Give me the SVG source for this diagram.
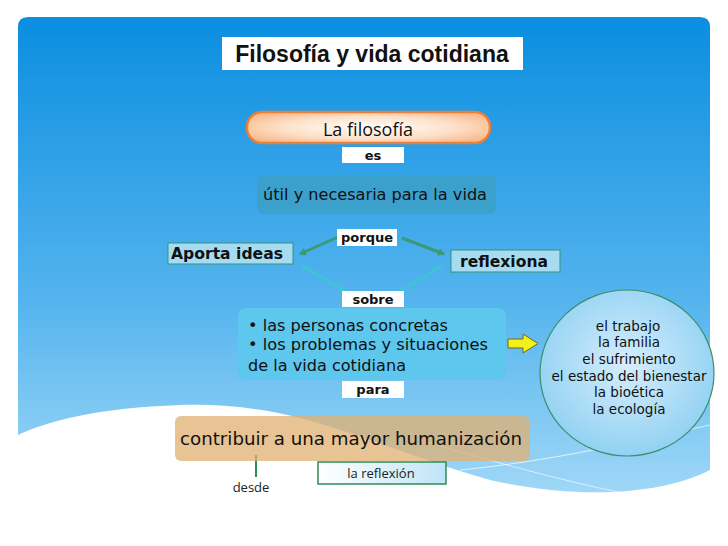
<svg xmlns="http://www.w3.org/2000/svg" width="728" height="546" viewBox="0 0 728 546">
<defs>
<linearGradient id="bg" x1="0" y1="0" x2="0" y2="1"><stop offset="0" stop-color="#0a8ee0"/><stop offset="0.6" stop-color="#55b4ee"/><stop offset="1" stop-color="#9fd7f7"/></linearGradient>
<radialGradient id="pill" cx="0.5" cy="0.5" r="0.6"><stop offset="0" stop-color="#ffffff"/><stop offset="0.6" stop-color="#fde0c8"/><stop offset="1" stop-color="#f8b98a"/></radialGradient>
<radialGradient id="circ" cx="0.5" cy="0.45" r="0.6"><stop offset="0" stop-color="#d6eefc"/><stop offset="1" stop-color="#8ccff2"/></radialGradient>
<linearGradient id="refl" x1="0" y1="0" x2="1" y2="0"><stop offset="0" stop-color="#ffffff"/><stop offset="1" stop-color="#bfe4f7"/></linearGradient>
<marker id="ah" markerWidth="8" markerHeight="8" refX="6" refY="4" orient="auto" markerUnits="userSpaceOnUse"><path d="M0,0 L7,4 L0,8 z" fill="#3a9a78"/></marker>
</defs>
<style>
.lab{fill:#fff}
.lt{font-family:"DejaVu Sans",sans-serif;font-weight:bold;font-size:13px;fill:#111;text-anchor:middle}
.t{font-family:"DejaVu Sans",sans-serif;fill:#111}
</style>
<rect width="728" height="546" fill="#fff"/>
<path d="M18,27 Q18,17 28,17 L700,17 Q710,17 710,27 L710,470 C660,495 580,500 490,480 C380,450 300,400 180,405 C100,408 50,420 18,435 Z" fill="url(#bg)"/>
<path d="M460,470 C560,460 640,440 710,425" stroke="#fff" stroke-width="1" fill="none" opacity="0.7"/>
<path d="M420,440 C520,470 600,490 660,500" stroke="#fff" stroke-width="1" fill="none" opacity="0.6"/>
<g id="title"><rect x="222" y="37" width="301" height="33" fill="#fff"/><text x="372" y="62" text-anchor="middle" font-family="Liberation Sans Narrow, Liberation Sans, sans-serif" font-weight="bold" font-size="23" fill="#111">Filosofía y vida cotidiana</text></g>
<g id="connectors">
<line x1="338" y1="237" x2="300" y2="254" stroke="#3a9a78" stroke-width="3" marker-end="url(#ah)"/>
<line x1="402" y1="238" x2="444" y2="254" stroke="#3a9a78" stroke-width="3" marker-end="url(#ah)"/>
<line x1="302" y1="266" x2="345" y2="291" stroke="#3cc8d0" stroke-width="2.5"/>
<line x1="442" y1="266" x2="400" y2="291" stroke="#3cc8d0" stroke-width="2.5"/>
<line x1="256" y1="455" x2="256" y2="477" stroke="#2e8b57" stroke-width="2"/>
<path d="M508,339 L523,339 L523,334 L538,343.5 L523,353 L523,348 L508,348 Z" fill="#f2f21a" stroke="#6a6a20" stroke-width="1"/>
</g>
<g id="filosofia"><rect x="247" y="112" width="243" height="31" rx="15" fill="url(#pill)" stroke="#e8803a" stroke-width="2.5"/><text x="368" y="136" text-anchor="middle" font-family="Open Sans, sans-serif" font-size="18" fill="#111">La filosofía</text></g>
<g id="es"><rect class="lab" x="342" y="147" width="62" height="16"/><text class="lt" x="373" y="160">es</text></g>
<g id="util"><rect x="257" y="176" width="239" height="38" rx="6" fill="#3d9fc4" opacity="0.8"/><text class="t" x="263" y="200" font-size="15" textLength="224" lengthAdjust="spacingAndGlyphs">útil y necesaria para la vida</text></g>
<g id="porque"><rect class="lab" x="337" y="229" width="60" height="17"/><text class="lt" x="367" y="242" font-size="14">porque</text></g>
<g id="aporta"><rect x="168" y="243" width="125" height="21" fill="#a5dcf2" stroke="#3a8f7a"/><text class="t" x="171" y="259" font-weight="bold" font-size="15" textLength="112" lengthAdjust="spacingAndGlyphs">Aporta ideas</text></g>
<g id="reflexiona"><rect x="451" y="250" width="109" height="22" fill="#a5dcf2" stroke="#3a8f7a"/><text class="t" x="460" y="267" font-weight="bold" font-size="15" textLength="88" lengthAdjust="spacingAndGlyphs">reflexiona</text></g>
<g id="sobre"><rect class="lab" x="342" y="291" width="62" height="16"/><text class="lt" x="373" y="304">sobre</text></g>
<g id="lista"><rect x="238" y="308" width="268" height="72" rx="8" fill="#5ec7ee"/><text class="t" font-size="15"><tspan x="248" y="331" textLength="200" lengthAdjust="spacingAndGlyphs">• las personas concretas</tspan><tspan x="248" y="350" textLength="240" lengthAdjust="spacingAndGlyphs">• los problemas y situaciones</tspan><tspan x="248" y="371" textLength="158" lengthAdjust="spacingAndGlyphs">de la vida cotidiana</tspan></text></g>
<g id="para"><rect class="lab" x="342" y="381" width="62" height="17"/><text class="lt" x="373" y="394">para</text></g>
<g id="temas"><ellipse cx="627" cy="373" rx="87" ry="83" fill="url(#circ)" stroke="#3a8f6a" stroke-width="1.2"/><text class="t" font-size="13.5" text-anchor="middle"><tspan x="628" y="331">el trabajo</tspan><tspan x="629" y="347">la familia</tspan><tspan x="629" y="364">el sufrimiento</tspan><tspan x="629" y="381">el estado del bienestar</tspan><tspan x="629" y="397">la bioética</tspan><tspan x="629" y="414">la ecología</tspan></text></g>
<g id="contribuir"><rect x="175" y="416" width="355" height="45" rx="6" fill="#e0b070" opacity="0.75"/><text class="t" x="180" y="445" font-size="17" textLength="342" lengthAdjust="spacingAndGlyphs">contribuir a una mayor humanización</text></g>
<g id="desde"><text x="251" y="492" text-anchor="middle" font-family="Open Sans, sans-serif" font-size="13" fill="#222">desde</text></g>
<g id="lareflexion"><rect x="318" y="462" width="128" height="22" fill="url(#refl)" stroke="#2e8b57" stroke-width="1.5"/><text x="381" y="478" text-anchor="middle" font-family="Open Sans, sans-serif" font-size="13" fill="#222">la reflexión</text></g>
</svg>
